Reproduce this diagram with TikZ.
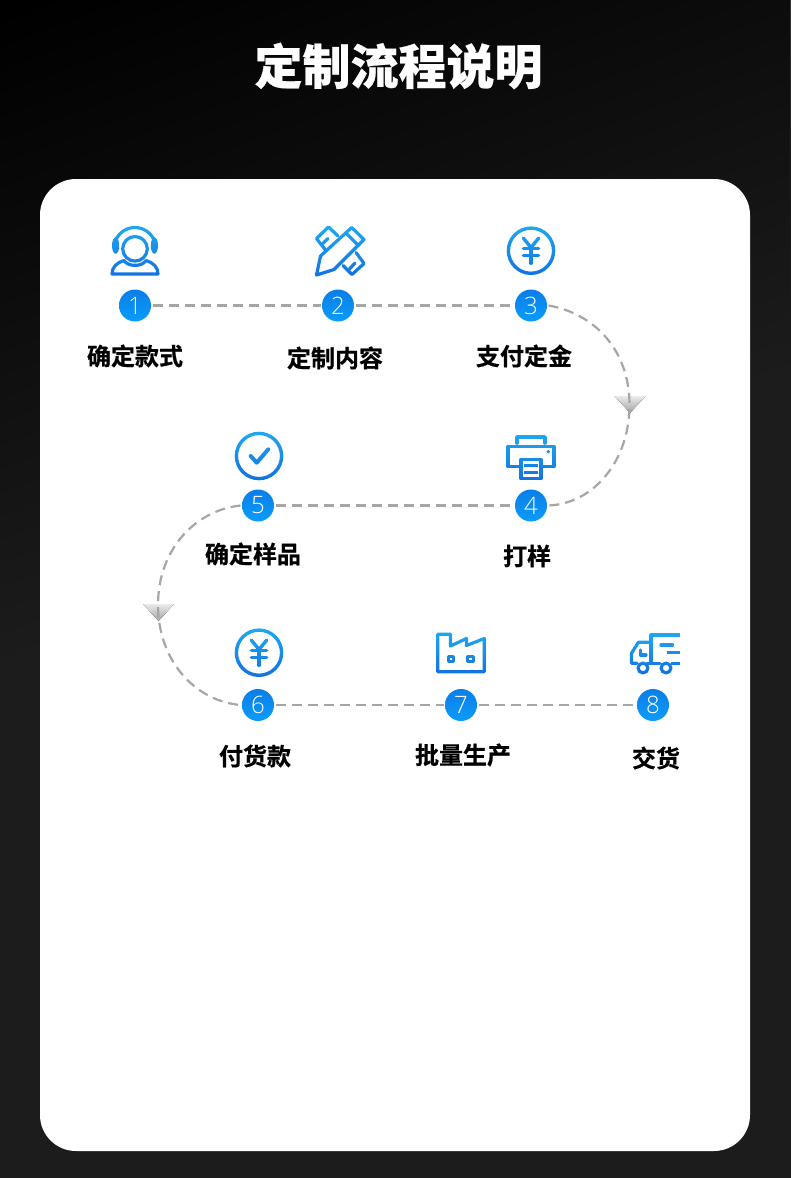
\documentclass[tikz,border=0pt]{standalone}
\usepackage{fontspec}
\usetikzlibrary{shapes.geometric}
\newfontfamily\cjkb[FakeBold=0.5]{Noto Sans CJK SC Bold}
\newfontfamily\cjkt[FakeBold=0.5]{Noto Sans CJK SC Black}
\newfontfamily\numf{Open Sans Light}
\definecolor{bgbot}{HTML}{1C1C1C}
\definecolor{icontop}{HTML}{1FA9F0}
\definecolor{iconbot}{HTML}{1270E0}
\definecolor{numtop}{HTML}{0A7EE8}
\definecolor{numbot}{HTML}{0A9CFB}
\definecolor{dashgray}{HTML}{A6A6A6}
\tikzset{
  numdot/.style={circle,minimum size=32pt,inner sep=0pt,outer sep=1.5pt,top color=numtop,bottom color=numbot,draw=none,text=white,font=\numf\fontsize{24}{24}\selectfont},
  steplabel/.style={inner sep=0pt,text=black,font=\cjkb\fontsize{24}{24}\selectfont},
  flow/.style={draw=dashgray,line width=2.2pt,dash pattern=on 10pt off 6pt},
  icon/.style={draw=black,line width=3.2pt,line join=round,line cap=round,fill=none},
  droptri/.style={draw=none,top color=black!8,bottom color=black!36},
}
\newcommand{\gradbox}[4]{\begin{scope}[blend mode=screen]\shade[top color=icontop,bottom color=iconbot] (#1,#2) rectangle (#3,#4);\end{scope}}
\newcommand{\yenicon}[2]{%
 \begin{scope}[shift={(#1,#2)}]
  \draw[icon,line width=3.4pt] (0,0) circle (22.6);
  \draw[icon,line width=3.4pt] (-7.7,-12.6) -- (0,-3.2) -- (7.7,-12.6);
  \draw[icon] (-7.7,-2.4) -- (7.7,-2.4);
  \draw[icon] (-7.7,4.4) -- (7.7,4.4);
  \draw[icon,line width=3.4pt] (0,-3.4) -- (0,12.6);
 \end{scope}}
\begin{document}
\begin{tikzpicture}[x=1pt,y=-1pt]
\useasboundingbox (0,0) rectangle (790,1178);
% background: diagonal gradient, black at the top left, levelling off at 1C1C1C
\begin{scope}
\clip (0,0) rectangle (790,1178);
\fill[black] (0,0) rectangle (790,1178);
\foreach \k in {1,...,28}{
  \pgfmathsetmacro{\bx}{\k*22*0.35}
  \pgfmathsetmacro{\by}{\k*22*0.937}
  \pgfmathsetmacro{\lev}{\k/255}
  \definecolor{bandcol}{gray}{\lev}
  \fill[bandcol] (\bx-0.937*3000,\by+0.35*3000) -- (\bx+0.937*3000,\by-0.35*3000) -- (\bx+0.937*3000+0.35*3000,\by-0.35*3000+0.937*3000) -- (\bx-0.937*3000+0.35*3000,\by+0.35*3000+0.937*3000) -- cycle;
}
\end{scope}
\fill[white,rounded corners=36pt] (40,179) rectangle (750,1151);
\node[inner sep=0pt,text=white,font=\cjkt\fontsize{48}{48}\selectfont] (title) at (398.5,66) {定制流程说明};

% icon 1 : headset
\draw[icon] (135,248.8) circle (12.3);
\draw[icon] (115.2,241.3) arc[start angle=200,end angle=340,radius=21];
\fill[black] (115.6,245.5) ellipse (3.6 and 8.2);
\fill[black] (154.4,245.5) ellipse (3.6 and 8.2);
\draw[icon] (112,274) .. controls (112,267) and (117,262.5) .. (124,260.5) .. controls (128,267) and (142,267) .. (146,260.5) .. controls (153,262.5) and (158,267) .. (158,274) -- cycle;
\gradbox{108}{224}{162}{278}

% icon 2 : pencil and ruler
\draw[icon] (325.5,250) -- (316.5,238.5) -- (328.5,227) -- (338,236);
\draw[icon] (356,252.5) -- (364,263.5) -- (352,274.5) -- (343,265.5);
\draw[icon] (322.8,243.6) -- (328,238.5);
\draw[icon] (349.5,269) -- (355,263);
\draw[icon] (351.7,227.5) -- (364,239.5) -- (334,269.5) -- (316.5,275) -- (320.5,256) -- cycle;
\draw[icon] (346,233) -- (358.3,245.5);
\gradbox{312}{224}{367}{278}

% icon 3 : yen
\yenicon{531}{250.7}
\gradbox{505}{225}{557}{277}

% icon 4 : printer
\draw[icon,line width=3.6pt] (517,443) -- (517,437) -- (545,437) -- (545,443);
\draw[icon,line width=3.4pt] (519,466.5) -- (508,466.5) -- (508,446.5) -- (554,446.5) -- (554,466.5) -- (543,466.5);
\draw[icon,line width=3.6pt,fill=white] (521,459.5) rectangle (541,478.5);
\draw[icon,line cap=butt,line width=3.2pt] (524,465.5) -- (538,465.5);
\draw[icon,line cap=butt,line width=3.2pt] (524,472.3) -- (538,472.3);
\fill[black] (548.3,451.7) circle (1.9);
\gradbox{504}{433}{558}{482}

% icon 5 : check
\draw[icon,line width=3.4pt] (259,456) circle (22.6);
\draw[icon,line width=4pt] (250.7,456) -- (256.7,462.7) -- (268.3,449.3);
\gradbox{234}{431}{284}{481}

% icon 6 : yen
\yenicon{259}{652.7}
\gradbox{233}{628}{285}{678}

% icon 7 : factory
\draw[icon] (437.7,634.3) -- (450.5,634.3) -- (450.5,646) -- (466.5,638.5) -- (466.5,645.5) -- (484.3,638.5) -- (484.3,671.7) -- (437.7,671.7) -- cycle;
\draw[icon,line cap=butt] (448.3,656.6) rectangle (453.5,661.8);
\draw[icon,line cap=butt] (467.6,656.6) rectangle (473.4,661.8);
\gradbox{434}{631}{488}{675}

% icon 8 : truck
\draw[icon,line cap=butt] (651,663) -- (651,635) -- (680,635);
\draw[icon] (651,642.3) -- (638.3,642.3) -- (631.5,653.3) -- (631.5,663.3) -- (637,663.3);
\draw[icon] (647,663.3) -- (660,663.3);
\draw[icon,line cap=butt] (671,663.3) -- (680,663.3);
\draw[icon] (661,645) -- (672.5,645);
\draw[icon,line cap=butt] (666.7,652.3) -- (680,652.3);
\draw[icon] (640.5,650) -- (640.5,655) -- (646,655);
\draw[icon,fill=white] (643,668) circle (4.9);
\draw[icon,fill=white] (666,668) circle (4.9);
\gradbox{628}{632}{680}{675}

% flow markers
\coordinate (mid1) at (629.5,405);
\coordinate (mid2) at (158,605);
\fill[droptri] (614.5,396) -- (645.5,396) -- (630,413) -- cycle;
\fill[droptri] (143,604) -- (174,604) -- (158.5,621) -- cycle;

% number dots
\node[numdot] (n1) at (135,305.5) {1};
\node[numdot] (n2) at (338,305.5) {2};
\node[numdot] (n3) at (531,305.5) {3};
\node[numdot] (n4) at (531,505.5) {4};
\node[numdot] (n5) at (258,505.5) {5};
\node[numdot] (n6) at (258,705) {6};
\node[numdot] (n7) at (461,705) {7};
\node[numdot] (n8) at (653,705) {8};

% connectors
\draw[flow] (n1) -- (n2);
\draw[flow] (n2) -- (n3);
\draw[flow] (n3.east) .. controls +(46,8) and +(0,-55) .. (mid1) .. controls +(0,55) and +(46,-2) .. (n4.east);
\draw[flow] (n5) -- (n4);
\draw[flow] (n5.west) .. controls +(-46,5) and +(0,-55) .. (mid2) .. controls +(0,55) and +(-46,-4) .. (n6.west);
\draw[flow] (n6) -- (n7);
\draw[flow] (n7) -- (n8);

% labels
\node[steplabel] (t1) at (135,356) {确定款式};
\node[steplabel] (t2) at (335,358) {定制内容};
\node[steplabel] (t3) at (524,356) {支付定金};
\node[steplabel] (t4) at (527,556) {打样};
\node[steplabel] (t5) at (253,554) {确定样品};
\node[steplabel] (t6) at (255,756) {付货款};
\node[steplabel] (t7) at (463,755) {批量生产};
\node[steplabel] (t8) at (656,758) {交货};
\end{tikzpicture}
\end{document}
